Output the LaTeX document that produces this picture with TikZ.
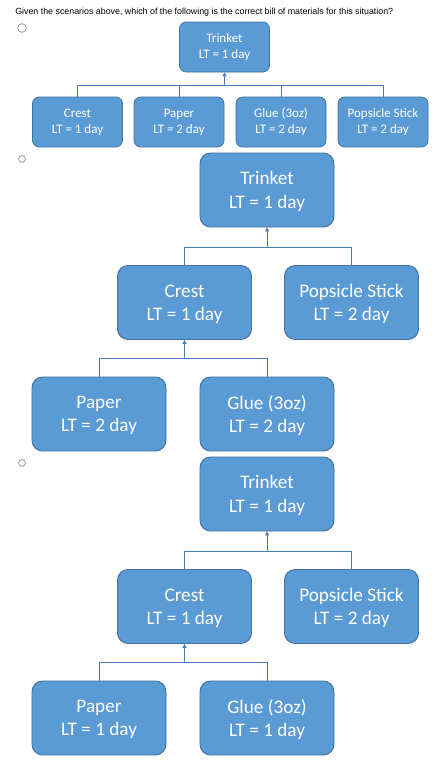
\documentclass[tikz,border=0pt]{standalone}
\usepackage{fontspec}
\setmainfont{Carlito}
\newfontfamily\hdrfont{Liberation Sans}
\usetikzlibrary{arrows.meta}
\definecolor{boxfill}{HTML}{5B9BD5}
\definecolor{boxline}{HTML}{41719C}
\definecolor{connline}{HTML}{4A7EBB}
\definecolor{radiogray}{HTML}{9A9A9A}
\tikzset{
  smallbox/.style={rectangle, rounded corners=5pt, fill=boxfill, draw=boxline, line width=0.6pt,
    minimum width=67.5pt, minimum height=37.5pt, inner sep=0pt, align=center, text=white,
    font=\fontsize{9.75pt}{12pt}\selectfont},
  bigbox/.style={rectangle, rounded corners=8pt, fill=boxfill, draw=boxline, line width=0.7pt,
    minimum width=100.5pt, minimum height=55.5pt, inner sep=0pt, align=center, text=white,
    text depth=0pt, font=\fontsize{14.4pt}{17.6pt}\selectfont},
  conn/.style={draw=connline, line width=0.7pt},
  arr/.style={conn, -{Triangle[width=3pt,length=3pt]}},
  radio/.style={circle, draw=radiogray, line width=0.6pt, fill=white, inner sep=0pt}
}
\begin{document}
\begin{tikzpicture}[x=0.75pt, y=-0.75pt]
\useasboundingbox (0,0) rectangle (447,778);
\fill[white] (0,0) rectangle (447,778);
% header
\node[anchor=west, inner sep=0pt, text=black, font=\hdrfont\fontsize{6.64pt}{8pt}\selectfont] (hdr) at (15,12)
  {Given the scenarios above, which of the following is the correct bill of materials for this situation?};
% radio buttons
\node[radio, minimum size=6.5pt] (r1) at (22,28) {};
\node[radio, minimum size=5.2pt] (r2) at (22,159) {};
\node[radio, minimum size=5.2pt] (r3) at (22,463) {};

% ---------- option 1 (small) ----------
\node[smallbox] (a0) at (224.5,47) {Trinket\\LT = 1 day};
\node[smallbox] (a1) at (77.5,122) {Crest\\LT = 1 day};
\node[smallbox] (a2) at (179,122) {Paper\\LT = 2 day};
\node[smallbox] (a3) at (281,122) {Glue (3oz)\\LT = 2 day};
\node[smallbox] (a4) at (383,122) {Popsicle Stick\\LT = 2 day};
\coordinate (aj) at (224.5,85);
\draw[conn] (a1.north) |- (aj);
\draw[conn] (a4.north) |- (aj);
\draw[conn] (a2.north) -- (a2.north |- aj);
\draw[conn] (a3.north) -- (a3.north |- aj);
\draw[arr] (aj) -- (a0.south);

% ---------- option 2 ----------
\node[bigbox] (b0) at (267,190) {Trinket\\LT = 1 day};
\node[bigbox] (b1) at (184.5,302.5) {Crest\\LT = 1 day};
\node[bigbox] (b2) at (351.5,302.5) {Popsicle Stick\\LT = 2 day};
\node[bigbox] (b3) at (99,414) {Paper\\LT = 2 day};
\node[bigbox] (b4) at (267,414) {Glue (3oz)\\LT = 2 day};
\coordinate (bj1) at (267,247);
\coordinate (bj2) at (184.5,358);
\draw[conn] (b1.north) |- (bj1);
\draw[conn] (b2.north) |- (bj1);
\draw[arr] (bj1) -- (b0.south);
\draw[conn] (b3.north) |- (bj2);
\draw[conn] (b4.north) |- (bj2);
\draw[arr] (bj2) -- (b1.south);

% ---------- option 3 ----------
\node[bigbox] (c0) at (267,494) {Trinket\\LT = 1 day};
\node[bigbox] (c1) at (184.5,606.5) {Crest\\LT = 1 day};
\node[bigbox] (c2) at (351.5,606.5) {Popsicle Stick\\LT = 2 day};
\node[bigbox] (c3) at (99,718) {Paper\\LT = 1 day};
\node[bigbox] (c4) at (267,718) {Glue (3oz)\\LT = 1 day};
\coordinate (cj1) at (267,551);
\coordinate (cj2) at (184.5,662);
\draw[conn] (c1.north) |- (cj1);
\draw[conn] (c2.north) |- (cj1);
\draw[arr] (cj1) -- (c0.south);
\draw[conn] (c3.north) |- (cj2);
\draw[conn] (c4.north) |- (cj2);
\draw[arr] (cj2) -- (c1.south);
\end{tikzpicture}
\end{document}
